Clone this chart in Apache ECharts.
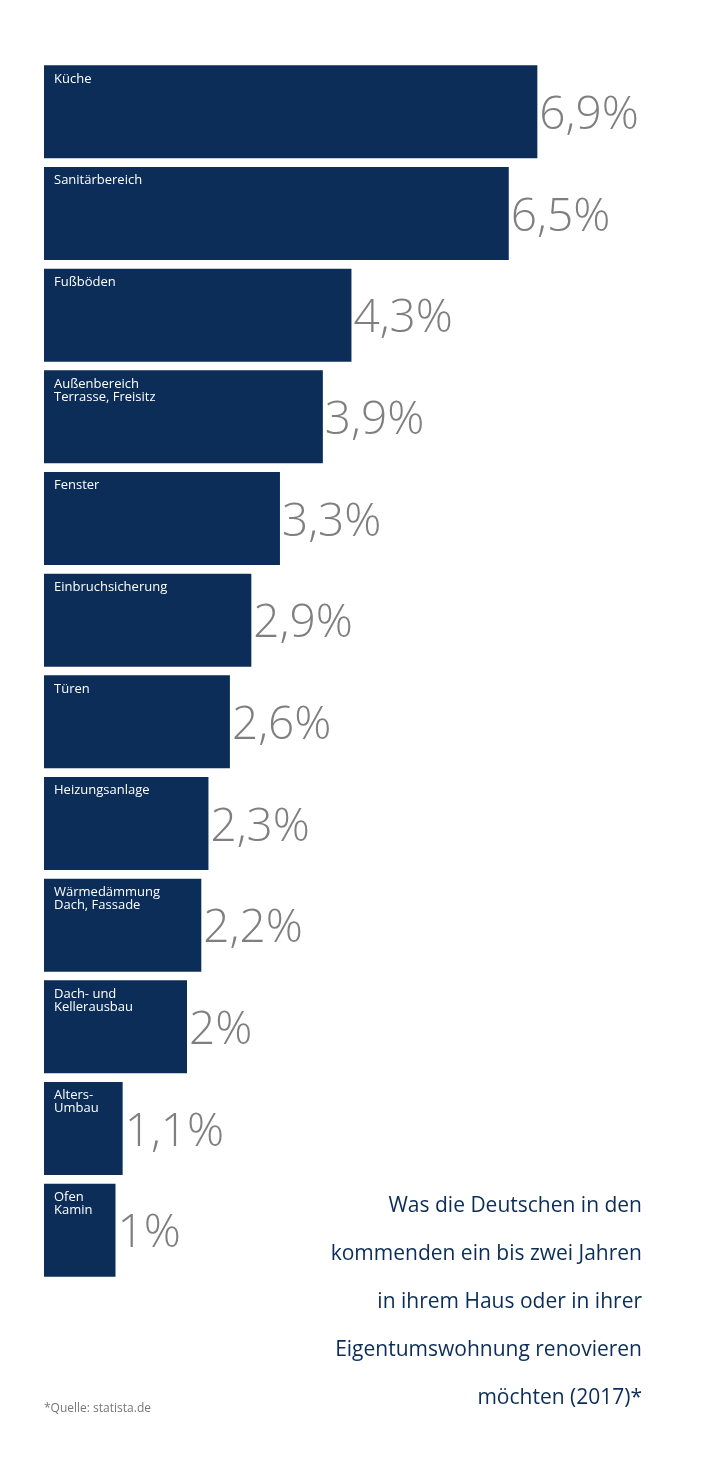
<!DOCTYPE html>
<html><head><meta charset="utf-8">
<script src="https://cdn.jsdelivr.net/npm/echarts@6/dist/echarts.min.js"></script>
<style>html,body{margin:0;padding:0;background:#fff}#c{width:708px;height:1478px}</style>
</head><body><div id="c"></div>
<script>
const categories = ["Küche","Sanitärbereich","Fußböden","Außenbereich\nTerrasse, Freisitz","Fenster","Einbruchsicherung","Türen","Heizungsanlage","Wärmedämmung\nDach, Fassade","Dach- und\nKellerausbau","Alters-\nUmbau","Ofen\nKamin"];
const values = [6.9,6.5,4.3,3.9,3.3,2.9,2.6,2.3,2.2,2,1.1,1];
const title = "Was die Deutschen in den\nkommenden ein bis zwei Jahren\nin ihrem Haus oder in ihrer\nEigentumswohnung renovieren\nmöchten (2017)*";
const source = "*Quelle: statista.de";
const navy = "#0b2d57";
const chart = echarts.init(document.getElementById('c'));
chart.setOption({
  animation:false,
  grid:{left:44,top:61,bottom:197,right:20.5},
  xAxis:{type:'value',min:0,max:9,show:false},
  yAxis:{type:'category',data:categories,inverse:true,show:false},
  series:[
    {type:'bar',data:values,barCategoryGap:'8.5%',itemStyle:{color:navy},
     label:{show:true,position:'insideTopLeft',offset:[5,2],formatter:p=>categories[p.dataIndex],color:'#fff',fontSize:13,lineHeight:13,fontFamily:'Open Sans'}},
    {type:'bar',data:values,barGap:'-100%',barCategoryGap:'8.5%',itemStyle:{color:'transparent'},silent:true,
     label:{show:true,position:'right',distance:2,offset:[0,4],formatter:p=>String(p.value).replace('.',',')+'%',color:'#7f7f7f',fontSize:46,fontWeight:300,fontFamily:'Open Sans'}}
  ],
  graphic:[
    {type:'text',right:66,top:1182,style:{text:title,textAlign:'right',fill:navy,fontSize:21,lineHeight:48,fontFamily:'Open Sans'}},
    {type:'text',left:44,top:1403,style:{text:source,fill:'#777',fontSize:12,fontFamily:'Open Sans'}}
  ]
});
</script></body></html>
